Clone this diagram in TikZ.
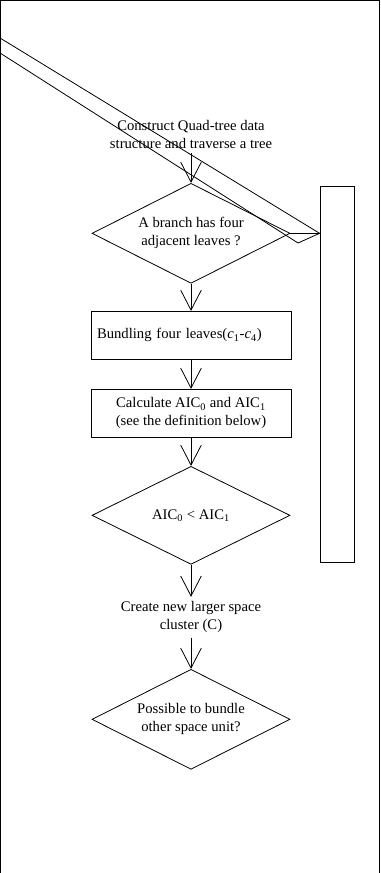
\documentclass[tikz,border=0pt]{standalone}
\usepackage{fontspec}
\setmainfont{Liberation Serif}
\usetikzlibrary{arrows.meta, shapes.geometric, positioning}

\begin{document}
\begin{tikzpicture}[node distance=76.5pt, line width=0.6pt,
    every node/.style={font=\fontsize{11}{13.5}\selectfont},
    decision/.style={draw, diamond, aspect=2, minimum width=148.5pt, minimum height=75pt, inner sep=0pt, align=center},
    process/.style={draw, rectangle, minimum width=150pt, minimum height=36pt, inner sep=4.5pt, align=center},
    flow/.style={-{Straight Barb[length=15pt, width=15.5pt]}}]
    \useasboundingbox (0,0) rectangle (285pt,-654.75pt);
    \draw[line width=1pt] (0.5pt,-654.75pt) -- (0.5pt,-0.5pt) -- (284.5pt,-0.5pt) -- (284.5pt,-654.75pt);

    \node[align=center] (construct) at (143.25pt,-100.5pt) {Construct Quad-tree data\\structure and traverse a tree};
    \node[decision, below of=construct, yshift=2pt] (branch) {A branch has four\\adjacent leaves ?};
    \node[process, below of=branch, text width=141pt, align=left] (bundle) {Bundling four leaves(\textit{c}\textsubscript{1}-\textit{c}\textsubscript{4})};
    \node[process, below of=bundle, yshift=18pt] (calc) {Calculate AIC\textsubscript{0} and AIC\textsubscript{1}\\(see the definition below)};
    \node[decision, below of=calc, minimum height=73.5pt] (compare) {AIC\textsubscript{0} {\textless} AIC\textsubscript{1}};
    \node[align=center, below of=compare] (create) {Create new larger space\\cluster (C)};
    \node[decision, below of=create] (possible) {Possible to bundle\\other space unit?};
    \node[draw, rectangle, minimum width=25.5pt, minimum height=282pt, inner sep=0pt] (back) at (252.75pt,-280.5pt) {};

    \coordinate (loopin) at (back.west |- branch.east);
    \coordinate (loopa) at (0pt,-28.5pt);
    \coordinate (loopb) at (223.5pt,-182.25pt);
    \coordinate (loopc) at (0pt,-39.75pt);

    \draw[flow] (construct) -- (branch);
    \draw[flow] (branch) -- (bundle);
    \draw[flow] (bundle) -- (calc);
    \draw[flow] (calc) -- (compare);
    \draw[flow] (compare) -- (create);
    \draw[flow] (create) -- (possible);
    \draw (branch.east) -- (loopin);
    \draw (loopa) -- (loopin) -- (loopb) -- (loopc);
\end{tikzpicture}
\end{document}
